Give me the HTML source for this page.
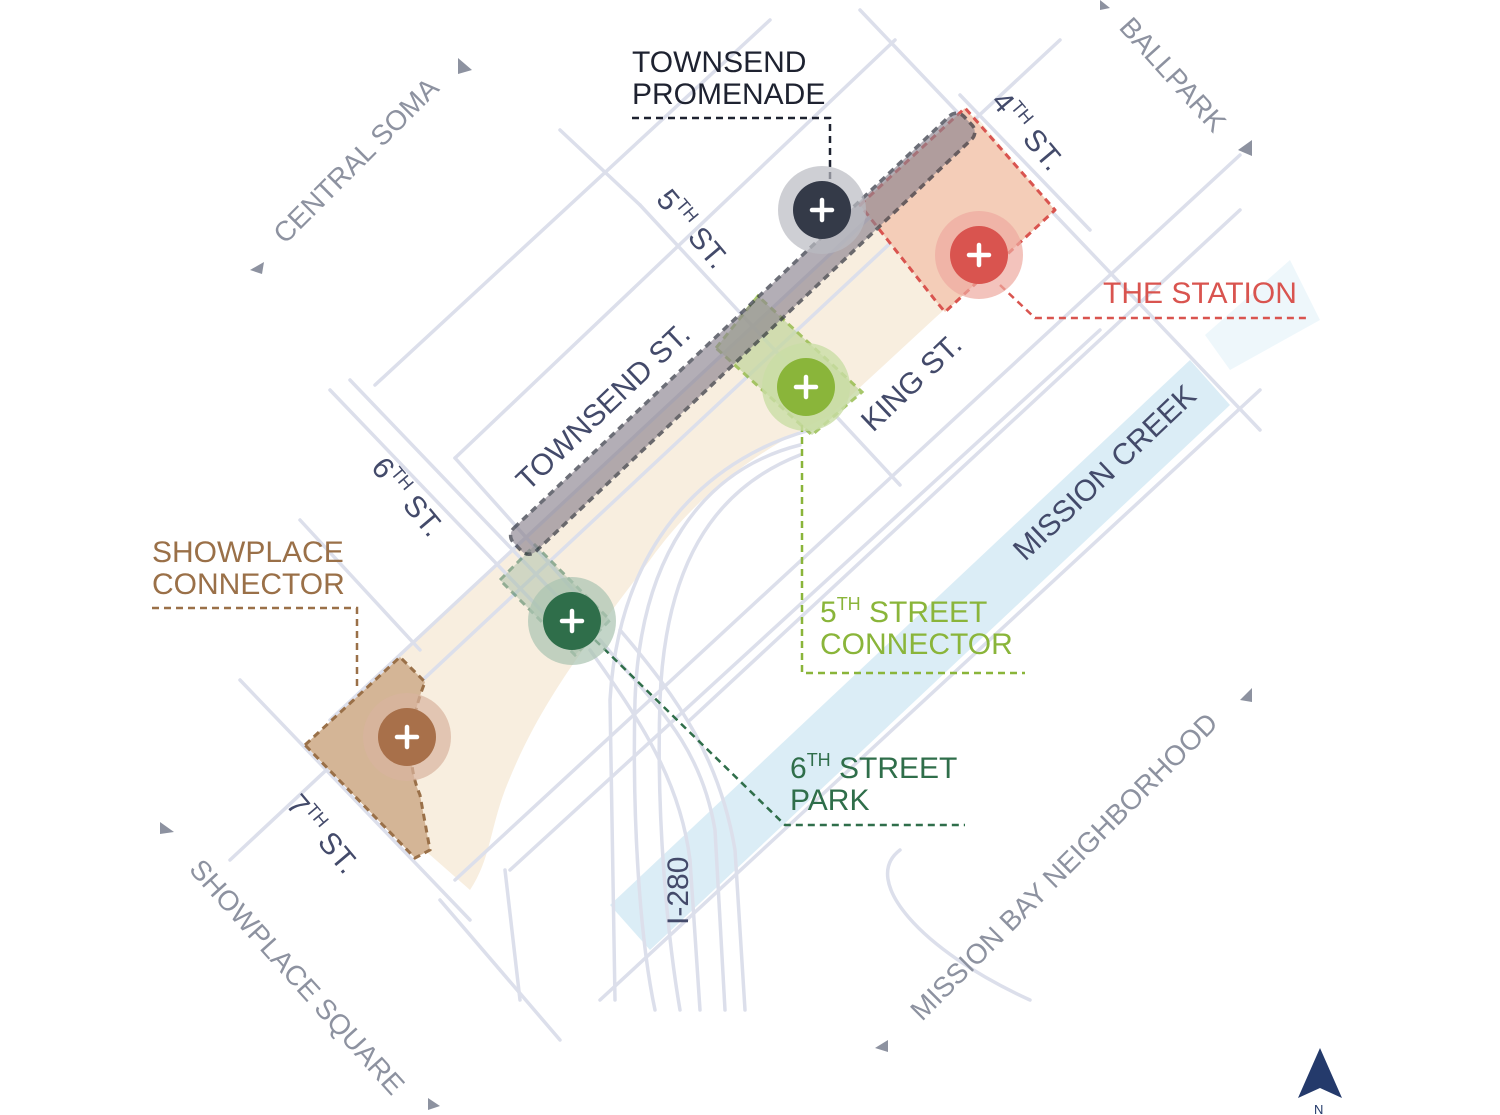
<!DOCTYPE html>
<html><head><meta charset="utf-8"><style>
html,body{margin:0;padding:0;background:#fff;}
svg{display:block;}
text{font-family:"Liberation Sans",sans-serif;}
</style></head><body>
<svg width="1500" height="1115" viewBox="0 0 1500 1115" xmlns="http://www.w3.org/2000/svg">
<rect width="1500" height="1115" fill="#fff"/>
<!-- mission creek -->
<polygon points="610,905 1190,360 1230,405 650,950" fill="#d5eaf4" opacity="0.85"/>
<polygon points="1205,335 1290,260 1320,320 1230,370" fill="#e3f1f8" opacity="0.6"/>
<!-- beige corridor -->
<path d="M305,745 L520,545 L975,115 L1055,210 L935,318 L830,415 C760,450 700,490 650,560 C590,640 540,700 505,790 C490,830 490,860 470,890 Z" fill="#f8eedf"/>
<!-- grid lines -->
<g stroke="#dcdfeb" stroke-width="3.5" fill="none" stroke-linecap="round">
<line x1="230" y1="860" x2="990" y2="150"/>
<line x1="330" y1="720" x2="1060" y2="40"/>
<line x1="455" y1="458" x2="895" y2="40"/>
<line x1="375" y1="385" x2="770" y2="20"/>
<line x1="455" y1="880" x2="1240" y2="155"/>
<line x1="600" y1="1000" x2="1260" y2="390"/>
<line x1="510" y1="870" x2="1100" y2="330"/>
<line x1="690" y1="720" x2="1240" y2="210"/>
<line x1="860" y1="10" x2="1260" y2="430"/>
<line x1="960" y1="95" x2="1090" y2="230"/>
<line x1="640" y1="205" x2="900" y2="485"/>
<line x1="560" y1="130" x2="640" y2="205"/>
<line x1="455" y1="458" x2="600" y2="620"/>
<line x1="330" y1="390" x2="560" y2="630"/>
<line x1="350" y1="380" x2="575" y2="615"/>
<line x1="240" y1="680" x2="470" y2="920"/>
<line x1="300" y1="520" x2="420" y2="650"/>
<line x1="440" y1="900" x2="560" y2="1040"/>
<line x1="505" y1="870" x2="520" y2="1000"/>
<path d="M800,445 C700,470 640,560 635,700 C632,820 640,940 655,1010"/>
<path d="M800,455 C710,490 665,570 660,700 C656,820 668,940 680,1010"/>
<path d="M810,430 C720,455 620,530 610,700 L615,1000"/>
<path d="M600,640 C650,700 700,740 715,830 L725,1010"/>
<path d="M590,650 C640,720 680,780 690,860 L700,1010"/>
<path d="M620,630 C680,700 720,760 735,850 L745,1010"/>
<path d="M1030,1000 C920,950 860,880 900,850"/>
</g>
<!-- showplace connector -->
<path d="M305,745 L400,657 L425,682 C410,720 405,760 420,795 L430,850 L415,858 Z" fill="#d4b596" stroke="#9a7048" stroke-width="3" stroke-dasharray="7,5"/>
<!-- station -->
<path d="M860,205 L965,108 L1055,210 L945,312 L935,300 Z" fill="#f4cdb8" stroke="#d9544f" stroke-width="3" stroke-dasharray="7,5" stroke-linejoin="round"/>
<!-- 5th connector -->
<polygon points="716,348 758,296 862,392 812,435" fill="#c4d7a0" opacity="0.75" stroke="#8ab53a" stroke-width="3" stroke-dasharray="7,5"/>
<!-- 6th street park -->
<polygon points="500,580 535,545 610,620 575,655" fill="#a9bfa9" opacity="0.5" stroke="#2f6e4a" stroke-width="3" stroke-dasharray="7,5"/>
<!-- townsend promenade -->
<g transform="rotate(-43.4 742 333)">
<rect x="432" y="318" width="620" height="32" rx="10" fill="#8c8490" opacity="0.65" stroke="#1e2230" stroke-width="3.5" stroke-dasharray="7,5"/>
</g>
<!-- leaders -->
<g fill="none" stroke-width="2.5" stroke-dasharray="7,5">
<path d="M632,118 L830,118 L830,180" stroke="#1e2230"/>
<path d="M1000,285 L1035,318 L1310,318" stroke="#d9544f"/>
<path d="M802,425 L802,673 L1025,673" stroke="#8ab53a"/>
<path d="M595,640 L785,825 L965,825" stroke="#2f6e4a"/>
<path d="M152,608 L357,608 L357,690" stroke="#9a7048"/>
</g>
<!-- markers -->
<circle cx="822" cy="210" r="44" fill="#b9bbc2" opacity="0.7"/><circle cx="822" cy="210" r="29" fill="#343a48"/>
<circle cx="979" cy="255" r="44" fill="#eea9a0" opacity="0.7"/><circle cx="979" cy="255" r="29" fill="#d9544f"/>
<circle cx="806" cy="387" r="44" fill="#c9dda5" opacity="0.8"/><circle cx="806" cy="387" r="29" fill="#8ab53a"/>
<circle cx="572" cy="621" r="44" fill="#aac3b0" opacity="0.7"/><circle cx="572" cy="621" r="29" fill="#2f6e4a"/>
<circle cx="407" cy="737" r="44" fill="#d8b49e" opacity="0.7"/><circle cx="407" cy="737" r="29" fill="#a8704a"/>
<g stroke="#fff" stroke-width="4.5" stroke-linecap="round">
<path d="M822,200v20M812,210h20"/><path d="M979,245v20M969,255h20"/><path d="M806,377v20M796,387h20"/><path d="M572,611v20M562,621h20"/><path d="M407,727v20M397,737h20"/>
</g>
<!-- labels -->
<g font-size="30" fill="#1e2230"><text x="632" y="72">TOWNSEND</text><text x="632" y="104">PROMENADE</text></g>
<text x="1103" y="303" font-size="30" fill="#d9544f">THE STATION</text>
<g font-size="30" fill="#8ab53a"><text x="820" y="622">5<tspan font-size="18" dy="-12">TH</tspan><tspan dy="12"> STREET</tspan></text><text x="820" y="654">CONNECTOR</text></g>
<g font-size="30" fill="#2f6e4a"><text x="790" y="778">6<tspan font-size="18" dy="-12">TH</tspan><tspan dy="12"> STREET</tspan></text><text x="790" y="810">PARK</text></g>
<g font-size="30" fill="#9a7048"><text x="152" y="562">SHOWPLACE</text><text x="152" y="594">CONNECTOR</text></g>
<g font-size="30" fill="#434a6a">
<text transform="translate(528,492) rotate(-43.5)">TOWNSEND ST.</text>
<text transform="translate(873,433) rotate(-43.5)">KING ST.</text>
<text transform="translate(1025,562) rotate(-43.5)">MISSION CREEK</text>
<text transform="translate(655,200) rotate(50)">5<tspan font-size="18" dy="-12">TH</tspan><tspan dy="12"> ST.</tspan></text>
<text transform="translate(990,102) rotate(50)">4<tspan font-size="18" dy="-12">TH</tspan><tspan dy="12"> ST.</tspan></text>
<text transform="translate(370,468) rotate(50)">6<tspan font-size="18" dy="-12">TH</tspan><tspan dy="12"> ST.</tspan></text>
<text transform="translate(285,805) rotate(50)">7<tspan font-size="18" dy="-12">TH</tspan><tspan dy="12"> ST.</tspan></text>
<text transform="translate(688,925) rotate(-90)">I-280</text>
</g>
<g font-size="28" fill="#8d92a0">
<text transform="translate(285,245) rotate(-45)">CENTRAL SOMA</text>
<text transform="translate(1118,28) rotate(48)">BALLPARK</text>
<text transform="translate(188,870) rotate(48)">SHOWPLACE SQUARE</text>
<text transform="translate(922,1022) rotate(-45)">MISSION BAY NEIGHBORHOOD</text>
</g>
<g fill="#8d92a0">
<polygon points="458,58 472,70 458,74"/>
<polygon points="250,270 264,262 262,274"/>
<polygon points="1238,150 1252,140 1252,156"/>
<polygon points="1100,0 1110,8 1100,10"/>
<polygon points="160,822 174,832 160,834"/>
<polygon points="428,1098 440,1106 428,1110"/>
<polygon points="1240,700 1252,688 1252,702"/>
<polygon points="875,1048 888,1040 888,1052"/>
</g>
<polygon points="1320,1048 1298,1098 1320,1088 1342,1098" fill="#243a6b"/>
<text x="1314" y="1114" font-size="13" fill="#243a6b">N</text>
</svg>
</body></html>
